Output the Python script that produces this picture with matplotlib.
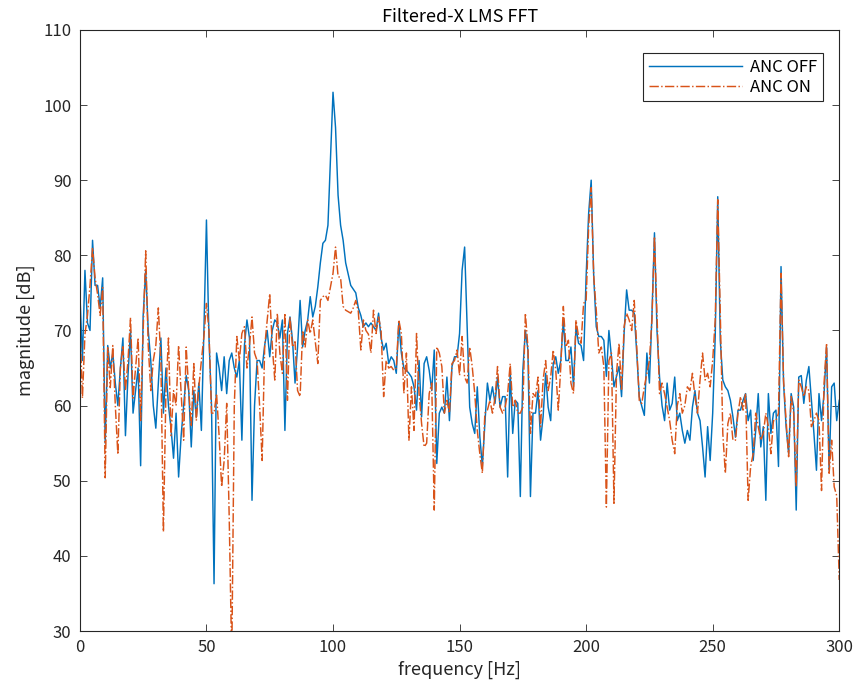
import matplotlib
matplotlib.use("Agg")
import matplotlib.pyplot as plt
import numpy as np

plt.rcParams['font.family'] = ['Noto Sans CJK JP', 'DejaVu Sans']

title = "Filtered-X LMS FFT"
xlabel = "frequency [Hz]"
ylabel = "magnitude [dB]"
series_names = ["ANC OFF", "ANC ON"]

freq_hz = list(range(0, 301))

anc_off_db = [
    75, 66, 78, 71, 70, 82, 76, 76, 73, 77,
    55, 68, 65, 67, 63, 60, 65, 69, 56, 64,
    70, 59, 62, 65, 52, 72, 78, 70, 66, 60,
    57, 63, 69, 59, 65, 60, 57, 53, 59, 50.5,
    56, 60, 64, 62, 54.5, 62, 58.5, 63, 56.7, 70,
    84.7, 69, 60, 36.3, 67, 65, 62, 66.5, 61.6, 66,
    67, 65, 63.8, 66, 55.4, 68, 71.4, 69, 47.4, 60,
    66, 66, 65, 68, 70, 66.5, 70, 71.4, 71, 69,
    71.4, 56.7, 69.6, 71.8, 68.7, 63, 67.8, 74, 67.8, 70,
    71.4, 74.5, 71.8, 73.2, 75.8, 79, 81.6, 82, 84, 93,
    101.7, 97, 88, 84, 82, 79, 77.5, 76, 75.5, 75,
    73, 72, 70.5, 71, 70.5, 71, 70.5, 70, 72.3, 69,
    67.4, 68.3, 65.6, 66.5, 66, 64.3, 71, 67, 65, 64.7,
    64.3, 63.8, 62.5, 59.4, 66, 58.5, 65.6, 66.5, 64.7, 62,
    67.4, 52.3, 59, 59.8, 59, 63.8, 58, 65.2, 66.5, 66.5,
    69.6, 78, 81.1, 70.5, 59.8, 57.6, 56.3, 62.5, 55.9, 51.9,
    57.6, 63, 60.7, 62.5, 60.3, 63.8, 59.8, 61.2, 61.2, 50.5,
    64.7, 56.3, 60.7, 60.3, 47.9, 64.7, 70, 67.4, 47.9, 59,
    59, 62, 55.4, 58.5, 64.3, 59.8, 58, 65.6, 66.5, 64.3,
    66, 71.4, 66, 66, 67.8, 62.5, 70.5, 68.3, 68, 66,
    77.2, 85.6, 90, 77.2, 70.5, 69.2, 69.2, 68.7, 63.9, 70,
    66.5, 62.5, 63.9, 65.2, 61.2, 69.6, 75.4, 72.7, 72.7, 72.3,
    67, 61.2, 59.9, 58.7, 67, 63, 72, 83, 70, 63.8,
    60, 58, 63, 59.4, 60.3, 63.8, 58, 59, 56.7, 55,
    56.7, 55.4, 59.8, 62, 59, 58, 54.5, 50.5, 57.2, 52.7,
    59, 69.2, 87.8, 68.7, 63.4, 62.5, 62, 60.7, 58.5, 55.8,
    59.4, 59.4, 60.7, 61.6, 58, 59.4, 52.7, 56.7, 61.6, 54.5,
    57.2, 47.4, 61.6, 56.3, 59, 59.4, 51.9, 78.5, 63, 57.2,
    53.6, 61.6, 59.8, 46.1, 63.8, 64, 60.3, 63.4, 65.2, 60.7,
    56.3, 51.4, 61.6, 58, 61.6, 67.8, 51.4, 62.5, 63, 58,
    60.7,
]

anc_on_db = [
    71, 61, 69.5, 72, 76, 81, 77, 74.8, 72, 75.7,
    50.4, 67.7, 62.4, 68, 60, 53.5, 65, 68, 62, 66,
    71.7, 61, 65, 69, 58, 70, 80.6, 68, 62, 66,
    68, 73, 66, 43.2, 62, 69, 56, 62, 60, 68,
    61.6, 55.4, 67.8, 62, 57.2, 65.6, 58, 62.5, 66, 69.2,
    73.6, 70, 59, 59, 61.6, 56, 49.2, 52.7, 60.3, 45,
    26, 60, 69.2, 66, 69.6, 70.5, 65, 68, 71.8, 67,
    66, 60, 52.7, 67.8, 71.4, 74.9, 68, 63.4, 72.3, 67,
    64.3, 72.3, 60.7, 71.8, 67.8, 68.5, 62, 61.2, 70, 67.8,
    71.4, 69.6, 71.4, 68.5, 65.6, 74, 74.5, 74.7, 74, 75.8,
    77.6, 81.1, 77.2, 77, 73.2, 72.7, 72.5, 72.3, 73, 74,
    72.5, 67.4, 71.4, 70, 69.5, 67, 72.7, 69.6, 71.8, 70,
    61.2, 66, 65, 65.2, 64.7, 65, 71.4, 69.6, 61.6, 67,
    55.4, 62.5, 56.7, 69.6, 61.6, 57.6, 54.5, 55, 61.6, 63,
    46.1, 67.8, 67, 65.2, 59, 60.7, 59, 65.6, 66, 67.4,
    64, 69.2, 63.8, 63, 67.8, 65.2, 61.6, 56.7, 53.6, 51,
    59, 59.4, 60.7, 59, 61, 65.2, 59.8, 59, 59.8, 61.6,
    65.6, 59.8, 60.7, 59, 59, 59.8, 72.3, 67.8, 56.3, 61.6,
    61.2, 63.8, 57.2, 63.4, 66, 62, 63.8, 67.4, 64.7, 59.4,
    65.2, 73.2, 67.8, 68.7, 63, 61.6, 71.4, 69.2, 68.3, 73.6,
    74, 83.8, 89, 77.2, 72.7, 67, 67.8, 65.2, 46.5, 66,
    67, 47, 64.3, 68.3, 62, 70.5, 72.3, 71.4, 70, 74,
    67.8, 60.7, 60.3, 62.5, 64.3, 66, 71.4, 82.5, 72, 61.6,
    63, 61.6, 59.8, 58, 55.4, 53.6, 60, 61.6, 59, 60,
    62.5, 62, 64.3, 61.2, 59, 63.4, 67, 63.4, 64.3, 62.5,
    66, 71.4, 87.4, 72.3, 56.3, 51, 57.6, 59, 55.4, 55.4,
    59, 61.2, 59.4, 61.6, 47.4, 51.9, 53.6, 59, 57.2, 55.4,
    56.3, 59, 57.2, 53.6, 58, 58, 59, 77.6, 63.4, 58,
    53.2, 61.2, 59, 49.2, 63.4, 62.5, 61.2, 62.5, 62, 57.2,
    58, 59, 58, 48.7, 63, 68.3, 51, 55.4, 49.2, 48,
    36.8,
]

x_ticks = [0, 50, 100, 150, 200, 250, 300]
y_ticks = [30, 40, 50, 60, 70, 80, 90, 100, 110]

fig = plt.figure(figsize=(8.59, 6.95), dpi=100)
ax = fig.add_axes([0.093, 0.092, 0.884, 0.865])

ax.plot(freq_hz, anc_off_db, color='#0072BD', lw=1.05, label=series_names[0])
ax.plot(freq_hz, anc_on_db, color='#D95319', lw=1.05, ls='-.', label=series_names[1])

ax.set_xlim(0, 300)
ax.set_ylim(30, 110)
ax.set_xticks(x_ticks)
ax.set_yticks(y_ticks)
ax.tick_params(direction='in', length=5, width=0.6, colors='#262626',
               labelsize=12, top=True, right=True, pad=6)
for s in ax.spines.values():
    s.set_color('#262626')
    s.set_linewidth(0.8)

ax.set_title(title, fontsize=13, color='black', pad=6)
ax.set_xlabel(xlabel, fontsize=13, color='#262626', labelpad=3)
ax.set_ylabel(ylabel, fontsize=13, color='#262626', labelpad=6)

leg = ax.legend(loc='upper right', fontsize=12, fancybox=False, framealpha=1,
                edgecolor='#262626', borderpad=0.35, handlelength=5.6,
                handletextpad=0.5, labelspacing=0.15, bbox_to_anchor=(0.99, 0.975))
leg.get_frame().set_linewidth(0.8)

fig.savefig('out.png', dpi=100)
